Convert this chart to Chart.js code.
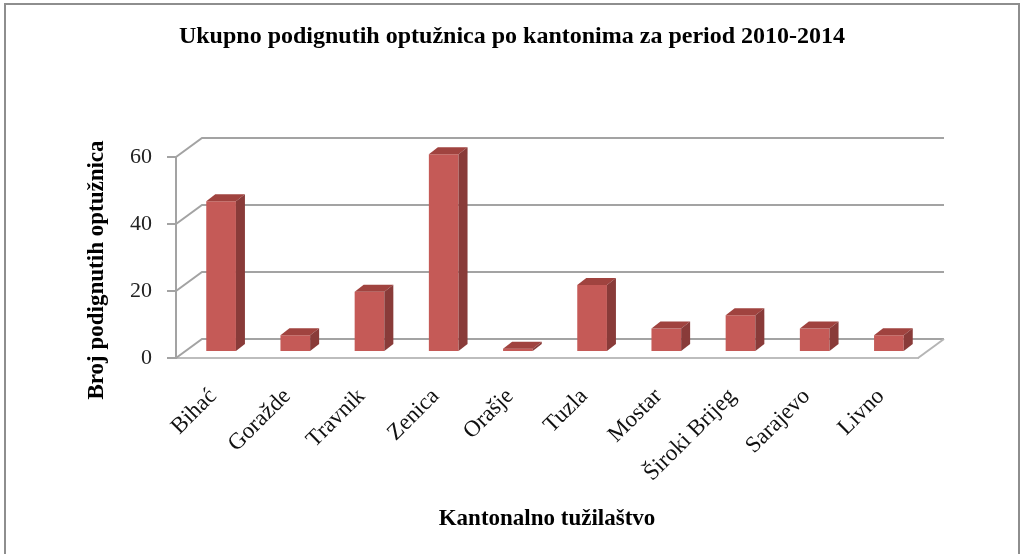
<!DOCTYPE html>
<html>
<head>
<meta charset="utf-8">
<script src="https://cdn.jsdelivr.net/npm/chart.js@4.4.1/dist/chart.umd.min.js"></script>
<style>
  html, body { margin: 0; padding: 0; background: #fff; }
</style>
</head>
<body>
<canvas id="chart" width="1021" height="554"></canvas>
<script>
// Data
const categories = ['Bihać', 'Goražde', 'Travnik', 'Zenica', 'Orašje', 'Tuzla', 'Mostar', 'Široki Brijeg', 'Sarajevo', 'Livno'];
const indictments = [45, 5, 18, 59, 1, 20, 7, 11, 7, 5];
const yTicks = [0, 20, 40, 60];

const chartTitle = 'Ukupno podignutih optužnica po kantonima za period 2010-2014';
const xTitle = 'Kantonalno tužilaštvo';
const yTitle = 'Broj podignutih optužnica';

// 3D look
const serif = "'Liberation Serif', 'Times New Roman', serif";
const wallDepth = { x: 26, y: -19 };
const barShift = { x: 8, y: -6 };
const barDepth = { x: 9, y: -7 };
const gridColor = '#a3a3a3';
const frontColor = '#c55a57';
const sideColor = '#893b39';
const topColor = '#a0433f';

const frame3d = {
    id: 'frame3d',
    beforeDraw(chart) {
        const ctx = chart.ctx;
        ctx.save();
        ctx.fillStyle = '#fff';
        ctx.fillRect(0, 0, chart.width, chart.height);
        // outer frame
        ctx.strokeStyle = '#8e8e8e';
        ctx.lineWidth = 2;
        ctx.beginPath();
        ctx.moveTo(5, chart.height + 2);
        ctx.lineTo(5, 4);
        ctx.lineTo(1019, 4);
        ctx.lineTo(1019, chart.height + 2);
        ctx.stroke();
        ctx.restore();
    },
    beforeDatasetsDraw(chart) {
        const { ctx, chartArea: a, scales: { y } } = chart;
        ctx.save();
        ctx.strokeStyle = gridColor;
        ctx.lineWidth = 2;
        // side wall diagonals + back wall gridlines
        yTicks.forEach(v => {
            const py = y.getPixelForValue(v);
            ctx.beginPath();
            ctx.moveTo(a.left, py);
            ctx.lineTo(a.left + wallDepth.x, py + wallDepth.y);
            ctx.lineTo(a.right + wallDepth.x, py + wallDepth.y);
            ctx.stroke();
        });
        // right edge of the floor
        ctx.strokeStyle = '#b5b5b5';
        ctx.beginPath();
        ctx.moveTo(a.right, a.bottom);
        ctx.lineTo(a.right + wallDepth.x, a.bottom + wallDepth.y);
        ctx.stroke();
        ctx.restore();

        // bars sit a bit inside the floor
        ctx.save();
        ctx.translate(barShift.x, barShift.y);
    },
    afterDatasetsDraw(chart) {
        const ctx = chart.ctx;
        chart.getDatasetMeta(0).data.forEach(bar => {
            const { x, y, base, width } = bar.getProps(['x', 'y', 'base', 'width'], true);
            const l = x - width / 2;
            const r = x + width / 2;

            // top face
            ctx.fillStyle = topColor;
            ctx.beginPath();
            ctx.moveTo(l, y);
            ctx.lineTo(l + barDepth.x, y + barDepth.y);
            ctx.lineTo(r + barDepth.x, y + barDepth.y);
            ctx.lineTo(r, y);
            ctx.closePath();
            ctx.fill();

            // side face
            ctx.fillStyle = sideColor;
            ctx.beginPath();
            ctx.moveTo(r, y);
            ctx.lineTo(r + barDepth.x, y + barDepth.y);
            ctx.lineTo(r + barDepth.x, base + barDepth.y);
            ctx.lineTo(r, base);
            ctx.closePath();
            ctx.fill();
        });
        ctx.restore();
    },
    afterDraw(chart) {
        // y axis title
        const ctx = chart.ctx;
        ctx.save();
        ctx.translate(97, 270);
        ctx.rotate(-Math.PI / 2);
        ctx.font = 'bold 23px ' + serif;
        ctx.fillStyle = '#000';
        ctx.textAlign = 'center';
        ctx.textBaseline = 'middle';
        ctx.fillText(yTitle, 0, 0);
        ctx.restore();
    }
};

new Chart(document.getElementById('chart'), {
    type: 'bar',
    data: {
        labels: categories,
        datasets: [{
            data: indictments,
            backgroundColor: frontColor,
            borderWidth: 0,
            categoryPercentage: 1,
            barPercentage: 0.4
        }]
    },
    options: {
        responsive: false,
        animation: false,
        layout: {
            padding: { left: 106, right: 103, top: 0, bottom: 0 }
        },
        plugins: {
            legend: { display: false },
            tooltip: { enabled: false },
            title: {
                display: true,
                text: chartTitle,
                color: '#000',
                font: { family: serif, size: 24, weight: 'bold' },
                padding: { top: 22, bottom: 106.2 }
            }
        },
        scales: {
            x: {
                grid: { display: false, drawTicks: false },
                border: { display: true, color: '#bdbdbd', width: 2 },
                ticks: {
                    minRotation: 45,
                    maxRotation: 45,
                    padding: 25,
                    color: '#111',
                    font: { family: serif, size: 23 }
                },
                title: {
                    display: true,
                    text: xTitle,
                    color: '#000',
                    font: { family: serif, size: 23, weight: 'bold' },
                    padding: { top: 0, bottom: 21 }
                },
                afterFit(scale) { scale.height = 196; }
            },
            y: {
                min: 0,
                max: 60,
                ticks: {
                    stepSize: 20,
                    padding: 15,
                    color: '#222',
                    font: { family: serif, size: 22 }
                },
                grid: {
                    drawOnChartArea: false,
                    drawTicks: true,
                    tickLength: 9,
                    color: gridColor,
                    lineWidth: 2
                },
                border: { display: true, color: gridColor, width: 2 },
                afterFit(scale) { scale.width = 70; }
            }
        }
    },
    plugins: [frame3d]
});
</script>
</body>
</html>
